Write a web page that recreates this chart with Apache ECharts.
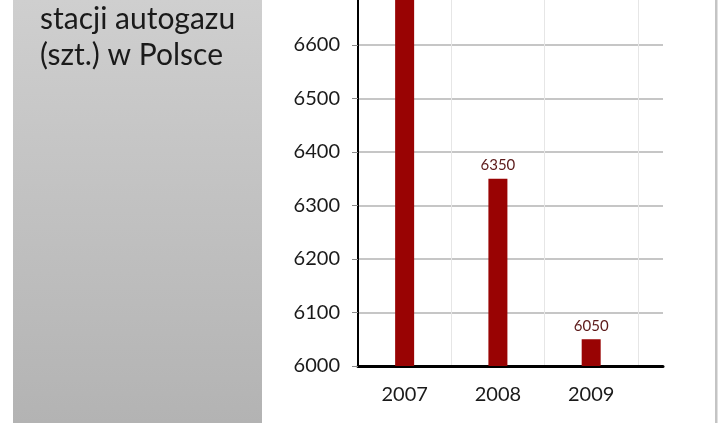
<!DOCTYPE html>
<html>
<head>
<meta charset="utf-8">
<script src="https://cdn.jsdelivr.net/npm/echarts@6/dist/echarts.min.js"></script>
<style>html,body{margin:0;padding:0;background:#fff}#c{width:727px;height:423px}</style>
</head>
<body>
<div id="c"></div>
<script>
var years = ['2007', '2008', '2009'];
var stations = [6770, 6350, 6050];
var titleLines = ['stacji autogazu', '(szt.) w Polsce'];
var yMin = 6000, yMax = 6800, yStep = 100;

var chart = echarts.init(document.getElementById('c'), null, {renderer: 'canvas'});
var font = 'Lato, "Open Sans", sans-serif';
chart.setOption({
  animation: false,
  backgroundColor: '#ffffff',
  graphic: [
    {type: 'rect', shape: {x: 13, y: 0, width: 249, height: 423}, z: -10,
     style: {fill: new echarts.graphic.LinearGradient(0, 0, 0, 1, [
       {offset: 0, color: '#cfcfcf'}, {offset: 1, color: '#b3b3b3'}])}},
    {type: 'rect', shape: {x: 715, y: 0, width: 2.5, height: 423}, z: -10,
     style: {fill: '#c4c4c4'}},
    {type: 'text', x: 40, y: 19, style: {text: titleLines[0], font: '30px ' + font, fill: '#1a1a1a', verticalAlign: 'middle'}},
    {type: 'text', x: 40, y: 55, style: {text: titleLines[1], font: '30px ' + font, fill: '#1a1a1a', verticalAlign: 'middle'}}
  ],
  grid: {left: 358, right: 64, top: -62, height: 428, outerBoundsMode: 'none', containLabel: false},
  xAxis: {
    type: 'value', min: 0, max: 3.27, interval: 1,
    axisLine: {show: true, lineStyle: {color: '#000', width: 3}},
    axisTick: {show: false},
    splitLine: {show: true, showMinLine: false, showMaxLine: false, lineStyle: {color: '#e6e6e6', width: 1}},
    axisLabel: {
      customValues: years.map(function (y, i) { return i + 0.5; }),
      formatter: function (v) { return years[Math.round(v - 0.5)] || ''; },
      color: '#1a1a1a', fontSize: 20, fontFamily: font, margin: 19
    }
  },
  yAxis: {
    type: 'value', min: yMin, max: yMax, interval: yStep,
    axisLine: {show: true, lineStyle: {color: '#000', width: 2}},
    axisTick: {show: true, length: 6, lineStyle: {color: '#888', width: 1}},
    splitLine: {show: true, lineStyle: {color: '#c6c6c6', width: 2}},
    axisLabel: {color: '#1a1a1a', fontSize: 20, fontFamily: font, margin: 18,
      formatter: function (v) { return String(v); }}
  },
  series: [{
    type: 'bar',
    barWidth: 19,
    data: stations.map(function (v, i) { return [i + 0.5, v]; }),
    itemStyle: {color: '#990303'},
    label: {show: true, position: 'top', distance: 6, color: '#5c1a1a', fontSize: 15, fontFamily: font,
      formatter: function (p) { return p.value[1]; }}
  }]
});
</script>
</body>
</html>
